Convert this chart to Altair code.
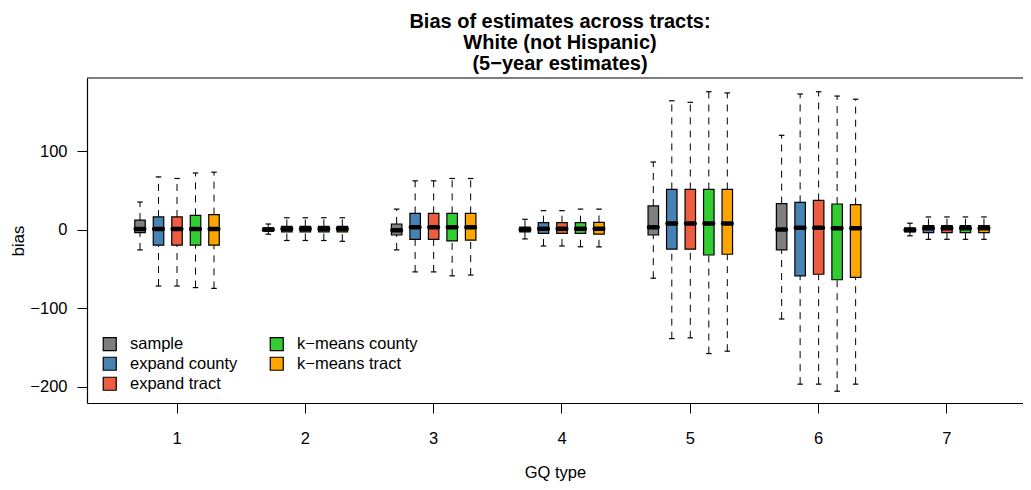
import altair as alt
import pandas as pd

groups = [1, 2, 3, 4, 5, 6, 7]
methods = ["sample", "expand county", "expand tract", "k\u2212means county", "k\u2212means tract"]
colors = ["#7F7F7F", "#4682B4", "#EE5C42", "#32CD32", "#FFA500"]

lower = {
    "sample":           [-26, -6, -26, -12, -62, -114, -8],
    "expand county":    [-72, -14, -54, -21, -139, -197, -12.5],
    "expand tract":     [-72, -14, -54, -21, -138, -197, -12.5],
    "k\u2212means county": [-74, -14, -59, -22, -158, -206, -12.5],
    "k\u2212means tract":  [-75, -15, -58, -22, -155, -197, -12.5],
}
q1 = {
    "sample":           [-4, -2, -7, -3, -7, -26, -3],
    "expand county":    [-20, -3, -12.5, -5, -25, -59, -4],
    "expand tract":     [-20, -3, -12.5, -5, -25, -57, -4],
    "k\u2212means county": [-20, -3, -14.6, -5, -32.5, -64, -4],
    "k\u2212means tract":  [-20, -3, -13.4, -6, -31.5, -61, -4],
}
median = {
    "sample":           [0.5, 0, -1, 0, 3, 0, -0.5],
    "expand county":    [0.5, 1, 3, 1, 7.5, 2.3, 1.5],
    "expand tract":     [0.5, 1, 3, 1, 7.5, 2.3, 1.5],
    "k\u2212means county": [0.5, 1, 3, 1, 7.5, 1.5, 1.5],
    "k\u2212means tract":  [0.5, 1, 3, 1, 7.5, 1.5, 1.5],
}
q3 = {
    "sample":           [12, 2, 7, 3, 30, 33, 2],
    "expand county":    [16, 4, 20.6, 8.7, 51, 34.6, 5],
    "expand tract":     [16, 4, 20.6, 8.7, 51, 37, 5],
    "k\u2212means county": [18, 4, 20.6, 8.7, 51, 32.5, 5],
    "k\u2212means tract":  [19, 4, 20.6, 9, 51, 31.6, 5],
}
upper = {
    "sample":           [35, 7, 26, 13, 86, 120, 8],
    "expand county":    [67, 15, 62, 24, 164, 172.6, 16],
    "expand tract":     [65, 15, 62, 24, 162, 175.5, 16],
    "k\u2212means county": [72, 15, 65, 26, 175.5, 170, 16],
    "k\u2212means tract":  [73, 15, 65, 26, 174, 166, 16],
}

rows = []
for m in methods:
    for i, g in enumerate(groups):
        rows.append({"gq": g, "method": m, "lo": lower[m][i], "q1": q1[m][i],
                     "med": median[m][i], "q3": q3[m][i], "hi": upper[m][i]})
df = pd.DataFrame(rows)

FONT = "Liberation Sans"
FS = 16.5
W, H = 936, 325

xenc = alt.X("gq:O",
             scale=alt.Scale(paddingInner=0, paddingOuter=0.147, align=0.685),
             axis=alt.Axis(title="GQ type", labelAngle=0, tickSize=10, labelPadding=17,
                           labelFont=FONT, labelFontSize=FS, labelColor="black",
                           titleFont=FONT, titleFontSize=FS, titleFontWeight="normal",
                           titleColor="black", titleY=69, titleBaseline="middle",
                           tickColor="black", domainColor="black", domainWidth=1.2,
                           tickWidth=1, grid=False))
xoff = alt.XOffset("method:N", scale=alt.Scale(domain=methods, paddingInner=0, paddingOuter=0.968))
yscale = alt.Scale(domain=[-221, 193], nice=False, zero=False)
yaxis = alt.Axis(title="bias", values=[-200, -100, 0, 100], tickSize=10, labelPadding=10,
                 labelFont=FONT, labelFontSize=FS, labelColor="black",
                 titleFont=FONT, titleFontSize=FS, titleFontWeight="normal", titleColor="black",
                 titleX=-69, titleY=H / 2, titleBaseline="middle",
                 tickColor="black", domainColor="black", domainWidth=1.2, grid=False)

base = alt.Chart(df).encode(x=xenc, xOffset=xoff)

legend = alt.Legend(title=None, orient="none", legendX=14.5, legendY=257.5, columns=2,
                    values=methods,
                    symbolType="square", symbolSize=169, symbolStrokeColor="black",
                    symbolStrokeWidth=1.2, symbolOpacity=1, labelFont=FONT, labelFontSize=FS,
                    labelColor="black", labelOffset=12, columnPadding=30, rowPadding=1,
                    padding=0)

whisk_up = base.mark_rule(color="black", strokeDash=[7, 6], strokeWidth=1).encode(
    y=alt.Y("q3:Q", scale=yscale, axis=yaxis), y2="hi:Q")
whisk_lo = base.mark_rule(color="black", strokeDash=[7, 6], strokeWidth=1).encode(
    y=alt.Y("lo:Q", scale=yscale, axis=yaxis), y2="q1:Q")
cap_hi = base.mark_tick(color="black", size=5.5, thickness=1.2, opacity=1).encode(
    y=alt.Y("hi:Q", scale=yscale, axis=yaxis))
cap_lo = base.mark_tick(color="black", size=5.5, thickness=1.2, opacity=1).encode(
    y=alt.Y("lo:Q", scale=yscale, axis=yaxis))
box = base.mark_bar(width=10.5, stroke="black", strokeWidth=1.2, opacity=1).encode(
    y=alt.Y("q1:Q", scale=yscale, axis=yaxis), y2="q3:Q",
    color=alt.Color("method:N", scale=alt.Scale(domain=methods, range=colors), legend=legend))
med = base.mark_tick(color="black", size=13, thickness=4.5, cornerRadius=2, opacity=1).encode(
    y=alt.Y("med:Q", scale=yscale, axis=yaxis))

frame_top = alt.Chart(pd.DataFrame({"a": [0]})).mark_rule(color="black", strokeWidth=1.2).encode(
    x=alt.value(0), x2=alt.value(W), y=alt.value(0))

chart = alt.layer(whisk_up, whisk_lo, cap_hi, cap_lo, box, med, frame_top).properties(
    width=W, height=H,
    autosize=alt.AutoSizeParams(type="none"),
    padding={"left": 79, "top": 70, "right": 0, "bottom": 79},
    title=alt.TitleParams(["Bias of estimates across tracts:", "White (not Hispanic)",
                           "(5\u2212year estimates)"],
                          font=FONT, fontSize=20, fontWeight="bold", color="black",
                          lineHeight=21, anchor="middle", offset=7, dx=5, dy=24,
                          baseline="bottom"),
).configure_view(stroke="transparent")

chart.save("out.html", embed_options={"renderer": "svg", "actions": False})
